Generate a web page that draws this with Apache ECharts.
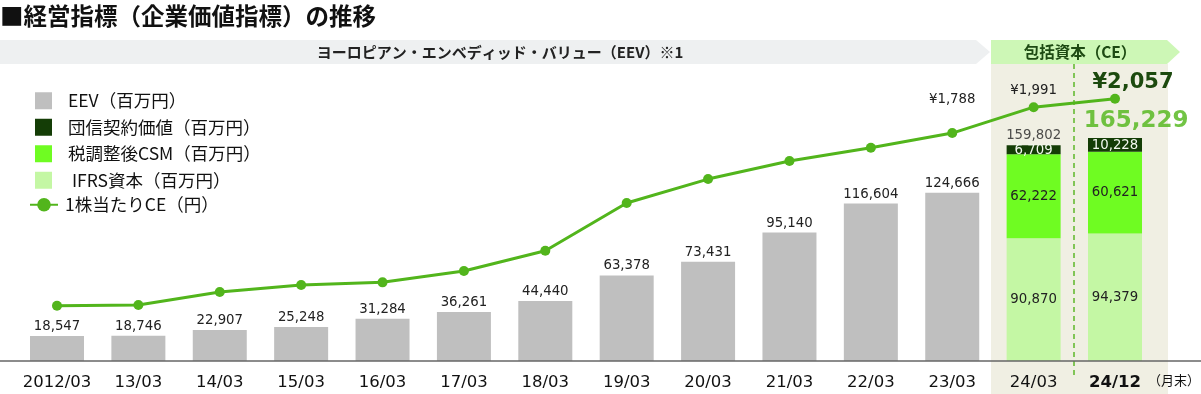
<!DOCTYPE html>
<html><head><meta charset="utf-8">
<script src="https://cdn.jsdelivr.net/npm/echarts@6/dist/echarts.min.js"></script>
<style>html,body{margin:0;padding:0;background:#fff}#c{width:1201px;height:394px}</style>
</head><body><div id="c"></div>
<script>
// ---- data ----
const categories = ['2012/03','13/03','14/03','15/03','16/03','17/03','18/03','19/03','20/03','21/03','22/03','23/03','24/03','24/12'];
const eev = [18547,18746,22907,25248,31284,36261,44440,63378,73431,95140,116604,124666,'-','-'];
const ifrsCapital = ['-','-','-','-','-','-','-','-','-','-','-','-',90870,94379];
const csmAfterTax = ['-','-','-','-','-','-','-','-','-','-','-','-',62222,60621];
const groupCreditValue = ['-','-','-','-','-','-','-','-','-','-','-','-',6709,10228];
const ceTotal = ['-','-','-','-','-','-','-','-','-','-','-','-',159802,165229];
const cePerShare = [434,439,541,596,617,706,865,1239,1427,1569,1673,1788,1991,2057];
const seriesNames = ['EEV（百万円）','団信契約価値（百万円）','税調整後CSM（百万円）',' IFRS資本（百万円）','1株当たりCE（円）'];

// ---- styling ----
const NUM = 'DejaVu Sans';
const JP = '"Noto Sans CJK JP", sans-serif';
const fmt = v => Number(v).toLocaleString('en-US');

const lineData = cePerShare.map((v, i) => {
  const item = { value: v };
  if (i === 11) item.label = { show: true, distance: 22, fontSize: 13.3, color: '#222', fontFamily: NUM, formatter: p => '¥' + fmt(p.value) };
  if (i === 12) item.label = { show: true, distance: 5, fontSize: 13.3, color: '#222', fontFamily: NUM, formatter: p => '¥' + fmt(p.value) };
  if (i === 13) item.label = { show: true, distance: 1, offset: [18, 0], fontSize: 21, fontWeight: 'bold', color: '#1c4a0e', fontFamily: NUM, formatter: p => '¥' + fmt(p.value) };
  return item;
});
const totalData = ceTotal.map((v, i) => {
  if (v === '-') return '-';
  if (i === 13) return { value: v, label: { show: true, position: 'top', distance: 5, offset: [21, 0], fontSize: 23, fontWeight: 'bold', color: '#4fb517', fontFamily: NUM, formatter: p => fmt(p.value) } };
  return { value: v, label: { show: true, position: 'top', distance: 3, fontSize: 13.3, color: '#222', fontFamily: NUM, formatter: p => fmt(p.value) } };
});

const chart = echarts.init(document.getElementById('c'), null, { renderer: 'canvas' });
chart.setOption({
  animation: false,
  backgroundColor: '#fff',
  grid: { left: 16.3, right: 45.3, top: 91, bottom: 33, containLabel: false },
  legend: [
    {
      data: seriesNames.slice(0, 4), orient: 'vertical', left: 35, top: 92, padding: 0,
      itemWidth: 17, itemHeight: 17, itemGap: 9, icon: 'rect',
      textStyle: { fontSize: 17.5, lineHeight: 17, color: '#111', fontFamily: JP, padding: [0, 0, 0, 11] }
    },
    {
      data: [seriesNames[4]], orient: 'vertical', left: 29, top: 196, padding: 0,
      itemWidth: 28, itemHeight: 17, itemGap: 9,
      textStyle: { fontSize: 17.5, lineHeight: 17, color: '#111', fontFamily: JP, padding: [0, 0, 0, 2] }
    }
  ],
  xAxis: {
    type: 'category', data: categories,
    axisLine: { show: false }, axisTick: { show: false },
    axisLabel: {
      margin: 13, fontSize: 16.5, color: '#111', fontFamily: NUM, interval: 0,
      formatter: v => v === '24/12' ? '{b|' + v + '}' : v,
      rich: { b: { fontSize: 16.5, fontWeight: 'bold', color: '#111', fontFamily: NUM } }
    }
  },
  yAxis: [
    { type: 'value', min: 0, max: 200000, show: false, splitLine: { show: false } },
    { type: 'value', min: 0, max: 2118, show: false, splitLine: { show: false } }
  ],
  series: [
    {
      name: seriesNames[0], type: 'bar', stack: 'a', barWidth: 54, data: eev,
      itemStyle: { color: '#bfbfbf' },
      label: { show: true, position: 'top', distance: 3, fontSize: 13.3, color: '#222', fontFamily: NUM, formatter: p => fmt(p.value) }
    },
    {
      name: seriesNames[3], type: 'bar', stack: 'a', barWidth: 54, data: ifrsCapital,
      itemStyle: { color: '#c4f7a4' },
      label: { show: true, position: 'inside', fontSize: 13.3, color: '#222', fontFamily: NUM, formatter: p => fmt(p.value) }
    },
    {
      name: seriesNames[2], type: 'bar', stack: 'a', barWidth: 54, data: csmAfterTax,
      itemStyle: { color: '#6ffc22' },
      label: { show: true, position: 'inside', fontSize: 13.3, color: '#222', fontFamily: NUM, formatter: p => fmt(p.value) }
    },
    {
      name: seriesNames[1], type: 'bar', stack: 'a', barWidth: 54, data: groupCreditValue,
      itemStyle: { color: '#143d06' },
      label: { show: true, position: 'inside', offset: [0, 1], fontSize: 13.3, color: '#f2f8ee', fontFamily: NUM, formatter: p => fmt(p.value) }
    },
    {
      name: 'CE合計', type: 'scatter', data: totalData, symbolSize: 0, z: 5,
      itemStyle: { color: 'transparent' }
    },
    {
      name: seriesNames[4], type: 'line', yAxisIndex: 1, data: lineData, z: 6,
      symbol: 'circle', symbolSize: 10, lineStyle: { color: '#52b51c', width: 3 },
      itemStyle: { color: '#52b51c' },
      label: { show: false, position: 'top' }
    }
  ],
  graphic: { elements: [
    { type: 'rect', shape: { x: 991, y: 64, width: 177, height: 330 }, style: { fill: '#f0efe3' }, z: -1, silent: true },
    { type: 'polygon', shape: { points: [[0,40],[976,40],[990,52],[976,64],[0,64]] }, style: { fill: '#eef0f1' }, z: -1, silent: true },
    { type: 'polygon', shape: { points: [[991,40],[1167,40],[1180,52],[1167,64],[991,64]] }, style: { fill: '#cdf7b6' }, z: -1, silent: true },
    { type: 'line', shape: { x1: 1074, y1: 64, x2: 1074, y2: 376 }, style: { stroke: '#5cb82a', lineWidth: 1.5, lineDash: [5, 4] }, z: 1, silent: true },
    { type: 'line', shape: { x1: 0, y1: 361, x2: 1201, y2: 361 }, style: { stroke: '#666', lineWidth: 1.5 }, z: 10, silent: true },
    { type: 'text', x: 0, y: 16, style: { text: '■経営指標（企業価値指標）の推移', font: 'bold 23.5px "Noto Sans CJK JP"', fill: '#111', textVerticalAlign: 'middle' }, z: 10 },
    { type: 'text', x: 500, y: 52, style: { text: 'ヨーロピアン・エンベディッド・バリュー（EEV）※1', font: 'bold 15px "Noto Sans CJK JP"', fill: '#222', textAlign: 'center', textVerticalAlign: 'middle' }, z: 10 },
    { type: 'text', x: 1080, y: 52, style: { text: '包括資本（CE）', font: 'bold 15.5px "Noto Sans CJK JP"', fill: '#1d4a12', textAlign: 'center', textVerticalAlign: 'middle' }, z: 10 },
    { type: 'text', x: 1148, y: 380, style: { text: '（月末）', font: '13px "Noto Sans CJK JP"', fill: '#111', textVerticalAlign: 'middle' }, z: 10 }
  ]}
});
</script></body></html>
